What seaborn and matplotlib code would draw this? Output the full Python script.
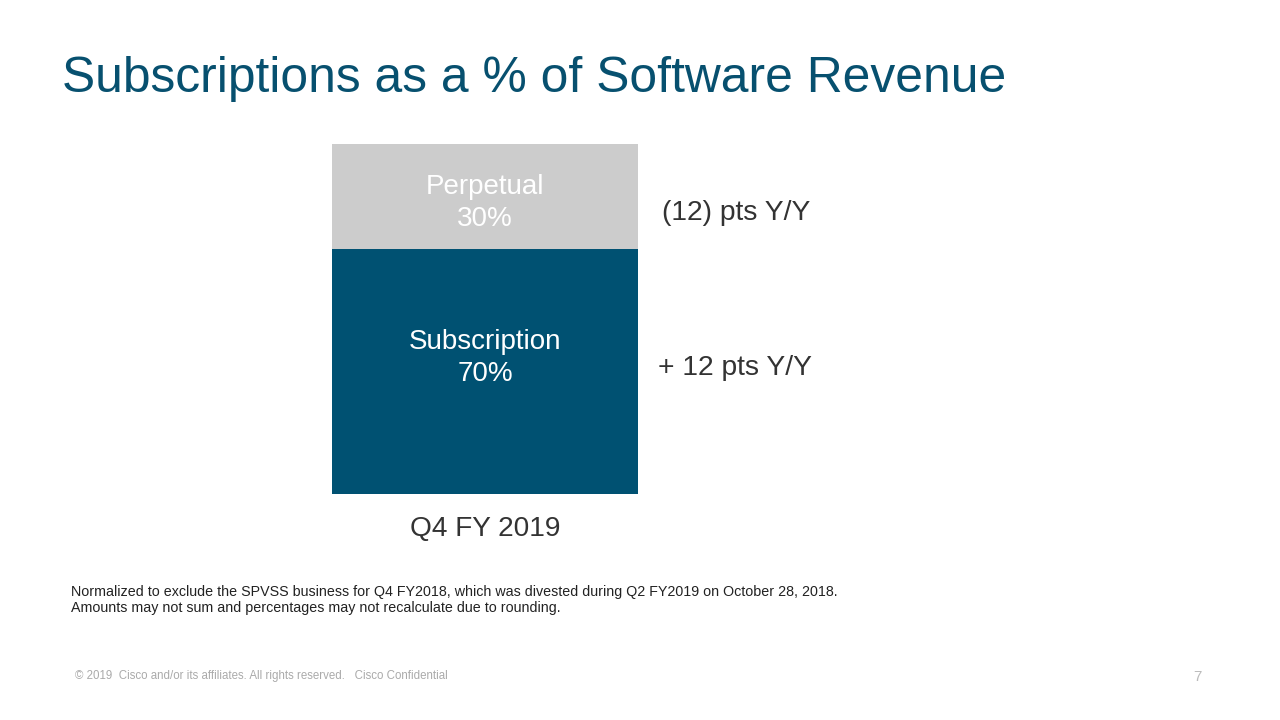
import matplotlib
matplotlib.use("Agg")
import matplotlib.pyplot as plt
import seaborn as sns
import pandas as pd

# data
period = ["Q4 FY 2019"]
subscription = [70]
perpetual = [30]
segment_names = ["Subscription", "Perpetual"]
yy_change = ["+ 12 pts Y/Y", "(12) pts Y/Y"]

BLUE = "#005172"
GREY = "#CCCCCC"
TEXT = "#333333"

sns.set_theme(style="white")
plt.rcParams["font.family"] = ["Liberation Sans", "DejaVu Sans"]

df = pd.DataFrame({"period": period, "subscription": subscription, "perpetual": perpetual})

fig = plt.figure(figsize=(12.8, 7.2), dpi=100)
fig.patch.set_facecolor("white")
ax = fig.add_axes([332 / 1280, 1 - 494 / 720, 306 / 1280, 350 / 720])

# stacked bar: subscription at the bottom, perpetual on top
sns.barplot(data=df, x="period", y="subscription", color=BLUE, width=1,
            saturation=1, linewidth=0, ax=ax)
sns.barplot(data=df, x="period", y="perpetual", bottom=df["subscription"],
            color=GREY, width=1, saturation=1, linewidth=0, ax=ax)

ax.set_xlim(-0.5, 0.5)
ax.set_ylim(0, 100)
ax.set_xlabel("")
ax.set_ylabel("")
ax.set_yticks([])
for s in ax.spines.values():
    s.set_visible(False)
ax.tick_params(axis="x", length=0, labelsize=20.2, labelcolor=TEXT, pad=16)

# labels inside segments
sub, perp = subscription[0], perpetual[0]
ax.text(0, sub * 0.556, f"{segment_names[0]}\n{sub}%", ha="center", va="center",
        color="white", fontsize=20, linespacing=1.32)
ax.text(0, sub + perp * 0.44, f"{segment_names[1]}\n{perp}%", ha="center", va="center",
        color="white", fontsize=20, linespacing=1.32)

# Y/Y changes beside the bar
trans = ax.get_yaxis_transform()
ax.text(1.065, 36, yy_change[0], transform=trans, ha="left", va="center",
        color=TEXT, fontsize=20.3)
ax.text(1.078, 80.2, yy_change[1], transform=trans, ha="left", va="center",
        color=TEXT, fontsize=20.3)

# title
fig.text(62 / 1280, 1 - 79 / 720, "Subscriptions as a % of Software Revenue",
         ha="left", va="center", color="#07506F", fontsize=35.8)

# footnotes
notes = ("Normalized to exclude the SPVSS business for Q4 FY2018, which was divested during Q2 FY2019 on October 28, 2018.\n"
         "Amounts may not sum and percentages may not recalculate due to rounding.")
fig.text(71 / 1280, 1 - 600 / 720, notes, ha="left", va="center", color="#222222",
         fontsize=10.3, linespacing=1.2)

# footer
fig.text(75 / 1280, 1 - 676 / 720,
         "\u00a9 2019  Cisco and/or its affiliates. All rights reserved.   Cisco Confidential",
         ha="left", va="center", color="#AAAAAA", fontsize=8.3)
fig.text(1197 / 1280, 1 - 677 / 720, "7", ha="center", va="center",
         color="#BBBBBB", fontsize=11)

fig.savefig("out.png", dpi=100, facecolor="white")
